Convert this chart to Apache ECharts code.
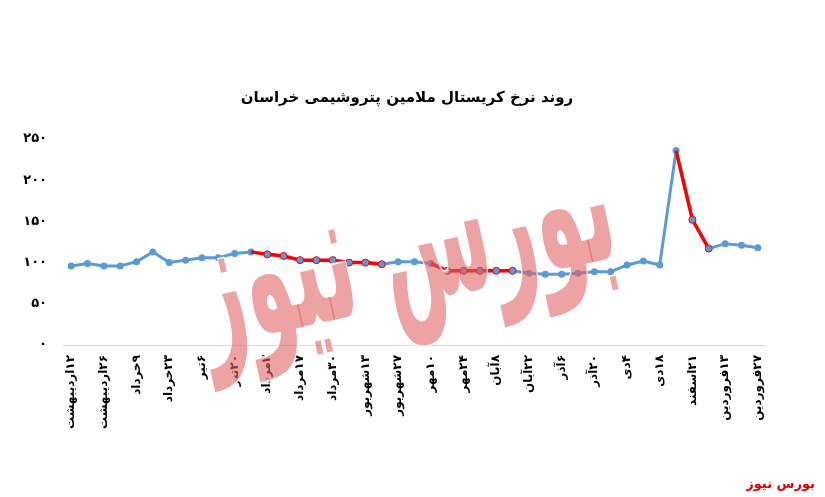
<!DOCTYPE html>
<html>
<head>
<meta charset="utf-8">
<script src="https://cdn.jsdelivr.net/npm/echarts@6/dist/echarts.min.js"></script>
<style>
  html, body { margin: 0; padding: 0; background: #fff; }
  #chart { width: 825px; height: 497px; }
</style>
</head>
<body>
<div id="chart" dir="rtl"></div>
<script>
// weekly dates, only every other one is printed on the axis
const dates = [
  '۱۲اردیبهشت', '', '۲۶اردیبهشت', '', '۹خرداد', '', '۲۳خرداد', '', '۶تیر', '', '۲۰تیر', '',
  '۳مرداد', '', '۱۷مرداد', '', '۳۰مرداد', '', '۱۳شهریور', '', '۲۷شهریور', '',
  '۱۰مهر', '', '۲۴مهر', '', '۸آبان', '', '۲۲آبان', '', '۶آذر', '', '۲۰آذر', '',
  '۴دی', '', '۱۸دی', '', '۲۱اسفند', '', '۱۳فروردین', '', '۲۷فروردین'
];

const prices = [
  96, 99, 96, 96, 101, 113, 100, 103, 106, 106, 111,
  113, 110, 108, 103, 103, 103, 100, 100, 98, 101, 101,
  99, 90, 90, 90, 90, 90, 87, 86, 86, 87, 89, 89, 97, 102, 97,
  236, 152, 117, 123, 121, 118
];

// index ranges drawn in red (falling stretches)
const redRanges = [[11, 19], [22, 27], [37, 39]];

const yTicks = ['۰', '۵۰', '۱۰۰', '۱۵۰', '۲۰۰', '۲۵۰'];

const title = 'روند نرخ کریستال ملامین پتروشیمی خراسان';
const brand = 'بورس نیوز';

const BLUE = '#5b9bd5';
const RED = '#ff0000';

const redData = prices.map((v, i) => {
  const r = redRanges.find(([a, b]) => i >= a && i <= b);
  if (!r) return '-';
  return i === r[0] ? { value: v, symbolSize: 0 } : v;
});

const chart = echarts.init(document.getElementById('chart'));

chart.setOption({
  animation: false,
  backgroundColor: '#fff',
  textStyle: { fontFamily: 'DejaVu Sans' },
  title: {
    text: title,
    left: 402,
    top: 86,
    textAlign: 'center',
    textStyle: { fontSize: 15, fontWeight: 'bold', color: '#000' }
  },
  grid: { left: 63, right: 59, top: 139, bottom: 152 },
  xAxis: {
    type: 'category',
    data: dates,
    boundaryGap: true,
    axisLine: { lineStyle: { color: '#d9d9d9', width: 1 } },
    axisTick: { show: false },
    axisLabel: {
      interval: 0,
      rotate: 90,
      margin: 10,
      color: '#000',
      fontSize: 12,
      fontWeight: 'bold'
    }
  },
  yAxis: {
    type: 'value',
    min: 0,
    max: 250,
    interval: 50,
    splitLine: { show: false },
    axisLine: { show: false },
    axisTick: { show: false },
    axisLabel: {
      margin: 16,
      color: '#000',
      fontSize: 13,
      fontWeight: 'bold',
      formatter: v => yTicks[Math.round(v / 50)]
    }
  },
  series: [
    {
      type: 'line',
      data: prices,
      symbol: 'circle',
      symbolSize: 7,
      z: 2,
      lineStyle: { color: BLUE, width: 3 },
      itemStyle: { color: BLUE }
    },
    {
      type: 'line',
      data: redData,
      symbol: 'circle',
      symbolSize: 7,
      z: 3,
      connectNulls: false,
      lineStyle: { color: RED, width: 3.5 },
      itemStyle: { color: BLUE, borderColor: RED, borderWidth: 1 }
    }
  ],
  graphic: [
    {
      type: 'text',
      x: 405,
      y: 255,
      rotation: 0.22,
      scaleY: 2.3,
      z: 100,
      style: {
        text: brand,
        font: 'bold 80px "DejaVu Sans"',
        fill: 'rgba(224,96,96,0.58)',
        stroke: 'rgba(255,255,255,0.9)',
        lineWidth: 1.5,
        align: 'center',
        verticalAlign: 'middle'
      }
    },
    {
      type: 'text',
      right: 10,
      top: 478,
      style: {
        text: brand,
        font: 'bold 13px "DejaVu Sans"',
        fill: '#e00000'
      }
    }
  ]
});
</script>
</body>
</html>
